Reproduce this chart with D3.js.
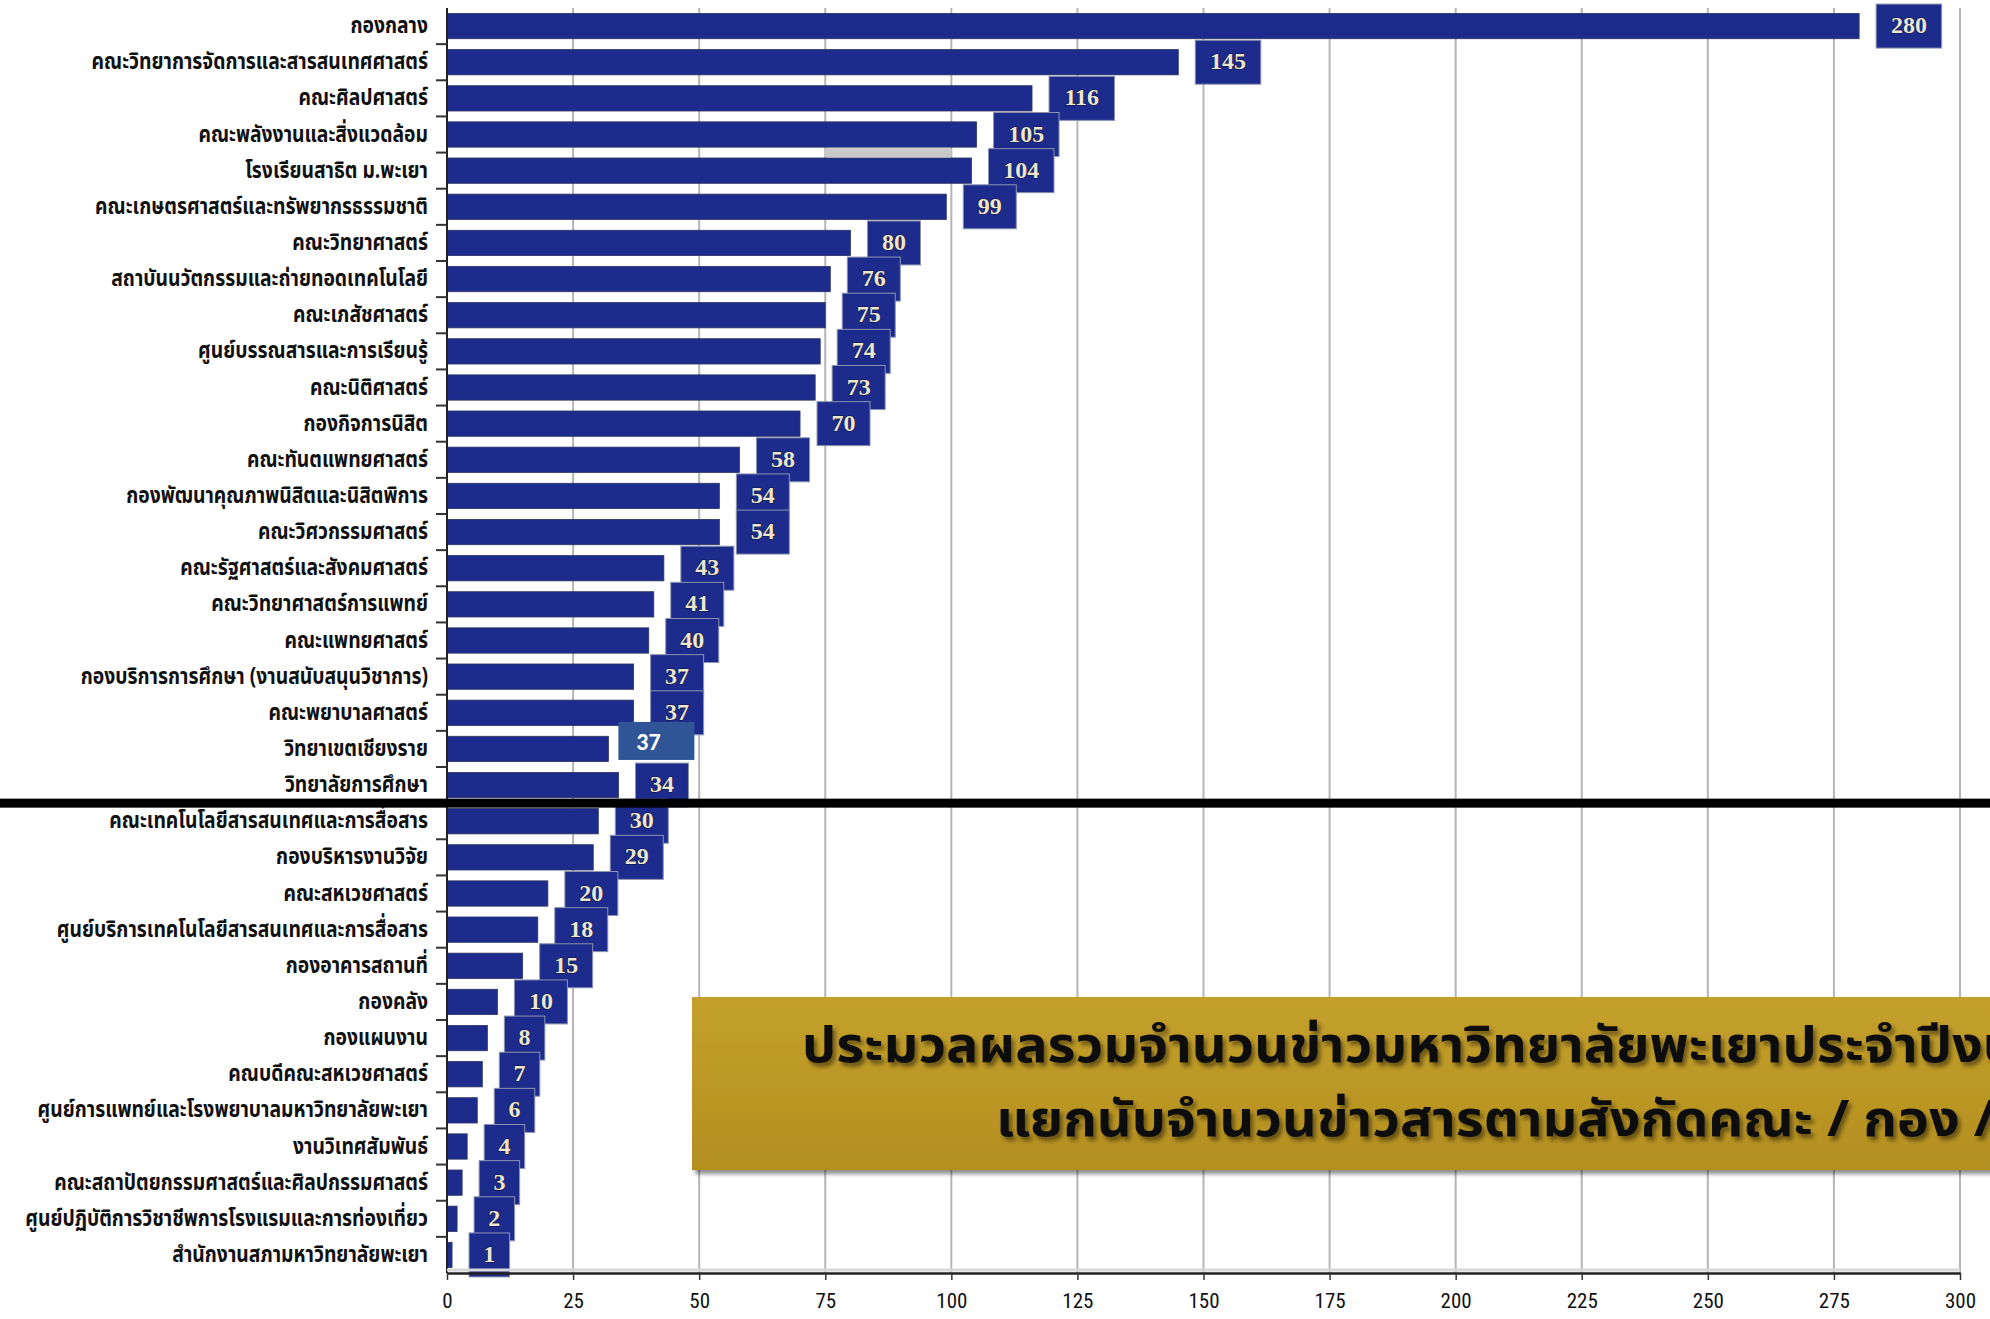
<!DOCTYPE html>
<html><head><meta charset="utf-8">
<script src="https://cdn.jsdelivr.net/npm/d3@7"></script>
<style>
html,body{margin:0;padding:0;background:#fff;overflow:hidden;}
svg{display:block;}
</style></head>
<body>
<svg id="chart" width="1990" height="1319"></svg>
<script>
const categories = [
 "กองกลาง","คณะวิทยาการจัดการและสารสนเทศศาสตร์","คณะศิลปศาสตร์","คณะพลังงานและสิ่งแวดล้อม",
 "โรงเรียนสาธิต ม.พะเยา","คณะเกษตรศาสตร์และทรัพยากรธรรมชาติ","คณะวิทยาศาสตร์ ","สถาบันนวัตกรรมและถ่ายทอดเทคโนโลยี",
 "คณะเภสัชศาสตร์","ศูนย์บรรณสารและการเรียนรู้","คณะนิติศาสตร์","กองกิจการนิสิต","คณะทันตแพทยศาสตร์",
 "กองพัฒนาคุณภาพนิสิตและนิสิตพิการ","คณะวิศวกรรมศาสตร์","คณะรัฐศาสตร์และสังคมศาสตร์","คณะวิทยาศาสตร์การแพทย์",
 "คณะแพทยศาสตร์","กองบริการการศึกษา (งานสนับสนุนวิชาการ)","คณะพยาบาลศาสตร์","วิทยาเขตเชียงราย","วิทยาลัยการศึกษา",
 "คณะเทคโนโลยีสารสนเทศและการสื่อสาร","กองบริหารงานวิจัย","คณะสหเวชศาสตร์","ศูนย์บริการเทคโนโลยีสารสนเทศและการสื่อสาร",
 "กองอาคารสถานที่","กองคลัง","กองแผนงาน","คณบดีคณะสหเวชศาสตร์","ศูนย์การแพทย์และโรงพยาบาลมหาวิทยาลัยพะเยา",
 "งานวิเทศสัมพันธ์","คณะสถาปัตยกรรมศาสตร์และศิลปกรรมศาสตร์","ศูนย์ปฏิบัติการวิชาชีพการโรงแรมและการท่องเที่ยว",
 "สำนักงานสภามหาวิทยาลัยพะเยา"
];
// bar lengths as drawn
const barValues = [280,145,116,105,104,99,80,76,75,74,73,70,58,54,54,43,41,40,37,37,32,34,30,29,20,18,15,10,8,7,6,4,3,2,1];
// value labels as printed
const valueLabels = ["280","145","116","105","104","99","80","76","75","74","73","70","58","54","54","43","41","40","37","37","37","34","30","29","20","18","15","10","8","7","6","4","3","2","1"];
const highlightIndex = 20;   // the relabelled box (วิทยาเขตเชียงราย)
const xTicks = [0,25,50,75,100,125,150,175,200,225,250,275,300];
const xDomain = [0,300];
const greyStrip = [75,100];   // light grey strip between rows 3 and 4
const splitAfter = 21;        // thick black divider after this row
const titleLines = [
 "ประมวลผลรวมจำนวนข่าวมหาวิทยาลัยพะเยาประจำปีงบ",
 "แยกนับจำนวนข่าวสารตามสังกัดคณะ / กอง /"
];

(function(){
const svg = d3.select("#chart");
const W = 1990, H = 1319;
const mL = 447, mR = 1960, mT = 8, mB = 1273;
const NAVY = "#1d2c8c";
const thai = "'Noto Sans Thai','Noto Sans Thai UI','Loma','Tlwg Typo','Noto Sans',sans-serif";

const x = d3.scaleLinear().domain(xDomain).range([mL, mR]);
const y = d3.scaleBand().domain(d3.range(categories.length)).range([mT, mB]).paddingInner(0.3).paddingOuter(0.15);
const band = y.step();

const defs = svg.append("defs");
const f = defs.append("filter").attr("id","shadow").attr("x","-10%").attr("y","-20%").attr("width","130%").attr("height","160%");
f.append("feGaussianBlur").attr("in","SourceAlpha").attr("stdDeviation",2);
f.append("feOffset").attr("dx",3).attr("dy",4).attr("result","ob");
f.append("feComponentTransfer").append("feFuncA").attr("type","linear").attr("slope",0.45);
const fm = f.append("feMerge"); fm.append("feMergeNode"); fm.append("feMergeNode").attr("in","SourceGraphic");
const g2 = defs.append("linearGradient").attr("id","gold").attr("x1",0).attr("y1",0).attr("x2",0).attr("y2",1);
g2.append("stop").attr("offset","0%").attr("stop-color","#c4a02c");
g2.append("stop").attr("offset","100%").attr("stop-color","#b48f1f");

// grid
svg.append("g").selectAll("line").data(xTicks.filter(d=>d>0)).join("line")
  .attr("x1",d=>x(d)).attr("x2",d=>x(d)).attr("y1",mT).attr("y2",mB)
  .attr("stroke","#b5b5b5").attr("stroke-width",2);

// grey strip
svg.append("rect").attr("x",x(greyStrip[0])).attr("width",x(greyStrip[1])-x(greyStrip[0]))
  .attr("y",y(3)+y.bandwidth()+1).attr("height",band-y.bandwidth()-2).attr("fill","#c9c9c9");

// bars
svg.append("g").selectAll("rect").data(barValues).join("rect")
  .attr("x",x(0)).attr("y",(d,i)=>y(i)).attr("width",d=>x(d)-x(0)).attr("height",y.bandwidth())
  .attr("fill",NAVY).attr("stroke","#2a3560").attr("stroke-width",0.8);

// value boxes
const vb = svg.append("g");
barValues.forEach((d,i)=>{
  const cy = y(i)+y.bandwidth()/2;
  const lab = valueLabels[i];
  if(i===highlightIndex){
    const bx = x(d)+10;
    vb.append("rect").attr("x",bx).attr("y",cy-27).attr("width",76).attr("height",38).attr("fill","#2f5597");
    vb.append("text").attr("x",bx+30).attr("y",cy-7).attr("text-anchor","middle").attr("dominant-baseline","central")
      .attr("font-family","Carlito,'Open Sans',sans-serif").attr("font-weight","bold").attr("font-size",24)
      .attr("fill","#fff").text(lab);
    return;
  }
  const w = 28 + 12.5*lab.length;
  const bx = x(d)+17;
  vb.append("rect").attr("x",bx).attr("y",cy-22).attr("width",w).attr("height",44)
    .attr("fill",NAVY).attr("stroke","#8c93b0").attr("stroke-width",1);
  vb.append("text").attr("x",bx+w/2).attr("y",cy-1).attr("text-anchor","middle").attr("dominant-baseline","central")
    .attr("font-family","'Liberation Serif','DejaVu Serif',serif").attr("font-weight","bold").attr("font-size",24)
    .attr("fill","#ece6cf").attr("style","paint-order:stroke").attr("stroke","#0d1440").attr("stroke-width",1.2)
    .text(lab);
});

// y axis
const ya = svg.append("g");
ya.append("line").attr("x1",mL).attr("x2",mL).attr("y1",mT).attr("y2",mB).attr("stroke","#222").attr("stroke-width",2);
ya.selectAll("line.t").data(d3.range(1,categories.length)).join("line").attr("class","t")
  .attr("x1",mL-11).attr("x2",mL).attr("y1",i=>y(i)-(band-y.bandwidth())/2).attr("y2",i=>y(i)-(band-y.bandwidth())/2)
  .attr("stroke","#333").attr("stroke-width",2);

// category labels (condensed)
const labG = svg.append("g");
const labs = labG.selectAll("text").data(categories).join("text")
  .attr("text-anchor","end").attr("dominant-baseline","central")
  .attr("font-family",thai).attr("font-weight","bold").attr("font-size",23).attr("fill","#111")
  .text(d=>d);
let maxW = 0; labs.each(function(){ maxW = Math.max(maxW, this.getComputedTextLength()); });
const sx = 403/maxW;
labs.attr("transform",(d,i)=>`translate(428,${y(i)+y.bandwidth()/2}) scale(${sx},1)`);

// x axis
const xa = svg.append("g").attr("transform",`translate(0,${mB})`)
  .call(d3.axisBottom(x).tickValues(xTicks).tickSize(7).tickSizeOuter(0).tickPadding(13));
xa.select(".domain").attr("stroke","#222").attr("stroke-width",2.5);
xa.selectAll(".tick line").attr("stroke","#333").attr("stroke-width",1.5);
xa.selectAll(".tick text").attr("font-family","'Liberation Sans Narrow','Roboto Condensed',Roboto,sans-serif")
  .attr("font-size",21).attr("fill","#111").attr("font-weight","normal");
svg.append("line").attr("x1",mL).attr("x2",mR).attr("y1",mB-3).attr("y2",mB-3).attr("stroke","#d8d8d8").attr("stroke-width",3);

// black divider
svg.append("rect").attr("x",0).attr("width",W).attr("y",y(splitAfter)+y.bandwidth()+(band-y.bandwidth())/2-4.5).attr("height",9).attr("fill","#000");

// title banner
const bg = svg.append("g");
bg.append("rect").attr("x",692).attr("y",997).attr("width",W-692+20).attr("height",173).attr("fill","url(#gold)").attr("filter","url(#shadow)");
const tl = [[802,1062,1215],[996,1136,1000]];
titleLines.forEach((t,i)=>{
  bg.append("text").attr("x",tl[i][0]).attr("y",tl[i][1]).attr("font-family",thai).attr("font-weight","bold")
    .attr("font-size",50).attr("fill","#111").attr("textLength",tl[i][2]).attr("lengthAdjust","spacingAndGlyphs")
    .attr("filter","url(#shadow)").text(t);
});
})();
</script>
</body></html>
